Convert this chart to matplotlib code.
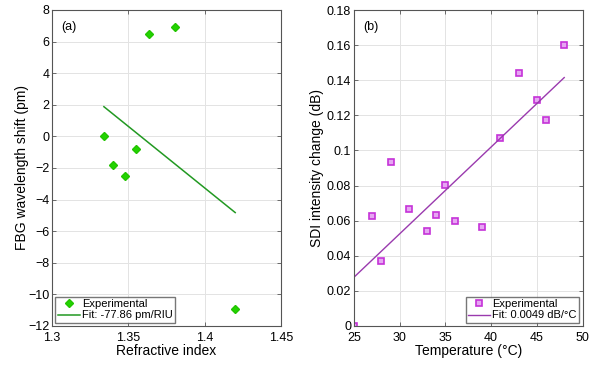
import matplotlib
matplotlib.use('Agg')
from matplotlib import pyplot as plt

plt.rcParams['font.family'] = ['Liberation Sans', 'DejaVu Sans']

# panel (a): FBG shift vs refractive index
ri = [1.334, 1.340, 1.3475, 1.3553, 1.3634, 1.3806, 1.420]
fbg_shift = [0.0, -1.8, -2.5, -0.8, 6.5, 6.9, -10.9]
fit_a_x = [1.334, 1.420]
fit_a_y = [1.88, -4.82]

# panel (b): SDI intensity change vs temperature
temp = [25, 27, 28, 29, 31, 33, 34, 35, 36, 39, 41, 43, 45, 46, 48]
sdi_change = [0.0, 0.0628, 0.0372, 0.0933, 0.0664, 0.0542, 0.0632, 0.0804,
              0.0597, 0.0563, 0.107, 0.1441, 0.1286, 0.1176, 0.1603]
fit_b_x = [25, 48]
fit_b_y = [0.0278, 0.1415]

W, H = 602, 365
fig = plt.figure(figsize=(W / 100, H / 100), dpi=100)
ax1 = fig.add_axes([52 / W, 39 / H, 229 / W, 316 / H])
ax2 = fig.add_axes([354 / W, 39 / H, 228.5 / W, 316 / H])


def style_axes(ax):
    for s in ax.spines.values():
        s.set_color('#555555')
        s.set_linewidth(0.8)
    ax.tick_params(direction='in', length=3, width=0.6, color='#555555',
                   labelsize=9, top=True, right=True, pad=2)
    ax.tick_params(axis='x', pad=4)
    ax.grid(True, color='#e3e3e3', linewidth=0.7)
    ax.set_axisbelow(True)


ax1.plot(ri, fbg_shift, linestyle='none', marker='D', markersize=4.2, markeredgewidth=1.0,
         color='#22d400', markeredgecolor='#22c400', label='Experimental')
ax1.plot(fit_a_x, fit_a_y, color='#229922', linewidth=1.1, label='Fit: -77.86 pm/RIU')
ax1.set_xlim(1.3, 1.45)
ax1.set_ylim(-12, 8)
ax1.set_xticks([1.3, 1.35, 1.4, 1.45])
ax1.set_xticklabels(['1.3', '1.35', '1.4', '1.45'])
ax1.set_yticks(range(-12, 9, 2))
ax1.set_xlabel('Refractive index', fontsize=10, labelpad=0)
ax1.set_ylabel('FBG wavelength shift (pm)', fontsize=10, labelpad=-1)
ax1.text(0.04, 0.965, '(a)', transform=ax1.transAxes, fontsize=9, va='top')
style_axes(ax1)
ax1.legend(loc='lower left', fontsize=8, frameon=True, fancybox=False,
           edgecolor='#555555', borderpad=0.2, labelspacing=0.1,
           handlelength=2.0, handletextpad=0.2, borderaxespad=0.3)

ax2.plot(temp, sdi_change, linestyle='none', marker='s', markersize=5,
         markerfacecolor='#e6a6f2', markeredgecolor='#c532d8', markeredgewidth=1.2,
         label='Experimental')
ax2.plot(fit_b_x, fit_b_y, color='#9a3aae', linewidth=1.0, label='Fit: 0.0049 dB/°C')
ax2.set_xlim(25, 50)
ax2.set_ylim(0, 0.18)
ax2.set_xticks(range(25, 51, 5))
ax2.set_yticks([0, 0.02, 0.04, 0.06, 0.08, 0.1, 0.12, 0.14, 0.16, 0.18])
ax2.set_yticklabels(['0', '0.02', '0.04', '0.06', '0.08', '0.1', '0.12', '0.14', '0.16', '0.18'])
ax2.set_xlabel('Temperature (°C)', fontsize=10, labelpad=0)
ax2.set_ylabel('SDI intensity change (dB)', fontsize=10, labelpad=2)
ax2.text(0.04, 0.965, '(b)', transform=ax2.transAxes, fontsize=9, va='top')
style_axes(ax2)
ax2.legend(loc='lower right', fontsize=8, frameon=True, fancybox=False,
           edgecolor='#555555', borderpad=0.2, labelspacing=0.1,
           handlelength=2.0, handletextpad=0.2, borderaxespad=0.3)

fig.savefig('out.png', dpi=100)
